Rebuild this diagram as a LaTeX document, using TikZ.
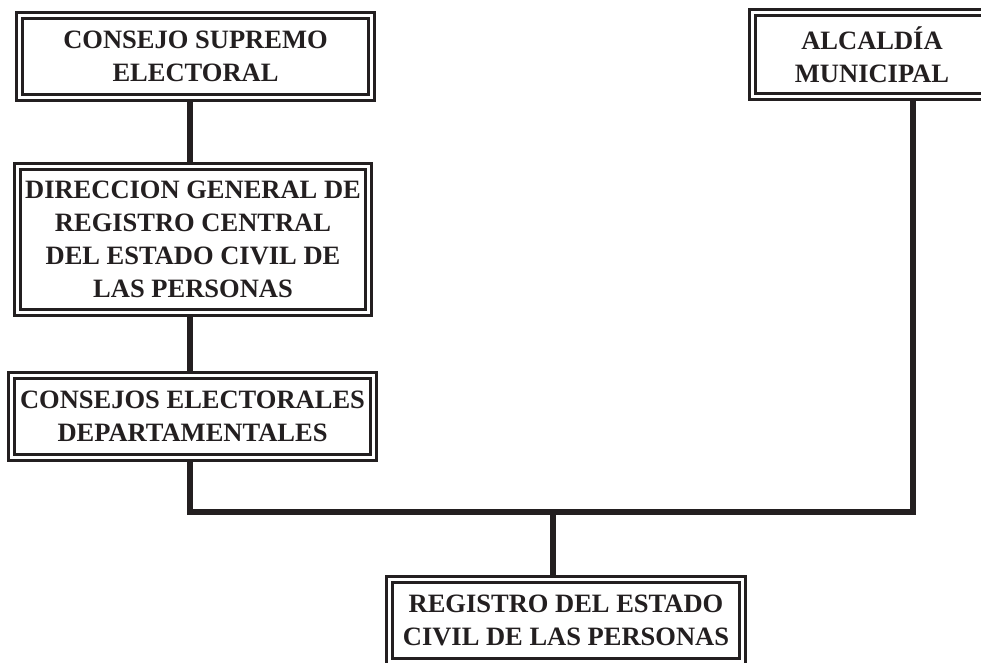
\documentclass[tikz,border=0pt]{standalone}
\usepackage{fontspec}
\setmainfont{Liberation Serif}
\usetikzlibrary{backgrounds}
\definecolor{tinta}{HTML}{231F20}

\tikzset{
  caja/.style={draw=tinta, double=white, double distance=3.5pt, line width=2.5pt,
    fill=white, inner sep=0pt, align=center, text=tinta,
    font=\fontsize{26.5}{33}\selectfont\bfseries},
  linea/.style={draw=tinta, line width=5.5pt}
}

\begin{document}
\begin{tikzpicture}[x=1pt,y=-1pt]
    \useasboundingbox (0,0) rectangle (981,662);

    % cajas
    \node[caja, minimum width=352pt, minimum height=82pt] (cse) at (195.5,56.5) {CONSEJO SUPREMO\\ELECTORAL};
    \node[caja, minimum width=351pt, minimum height=146pt] (dgr) at (193,239.5) {DIRECCION GENERAL DE\\REGISTRO CENTRAL\\DEL ESTADO CIVIL DE\\LAS PERSONAS};
    \node[caja, minimum width=362pt, minimum height=82pt] (ced) at (192.5,416.5) {CONSEJOS ELECTORALES\\DEPARTAMENTALES};
    \node[caja, minimum width=239pt, minimum height=84pt] (alc) at (872,54.5) {ALCALD\'IA\\MUNICIPAL};
    \node[caja, minimum width=353pt, minimum height=82pt] (rec) at (566,620.5) {REGISTRO DEL ESTADO\\CIVIL DE LAS PERSONAS};

    \coordinate (izq) at (190,512);
    \coordinate (med) at (553,512);
    \coordinate (der) at (913,512);

    % lineas
    \begin{scope}[on background layer]
    \draw[linea] (cse.south -| izq) -- (dgr.north -| izq);
    \draw[linea] (dgr.south -| izq) -- (ced.north -| izq);
    \draw[linea] (ced.south -| izq) -- (izq) -- (der) -- (alc.south -| der);
    \draw[linea] (med) -- (rec.north -| med);
    \end{scope}
\end{tikzpicture}
\end{document}
